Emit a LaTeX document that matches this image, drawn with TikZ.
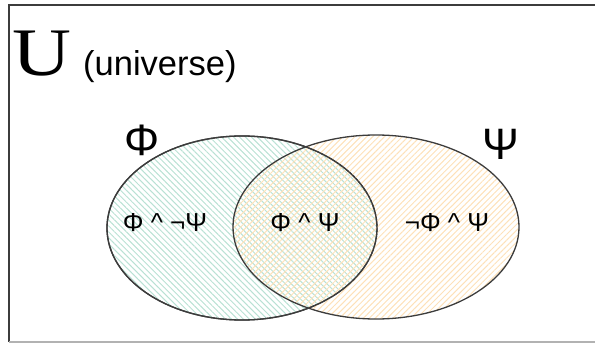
\documentclass[tikz,border=0pt]{standalone}
\usepackage{fontspec}
\setmainfont{Liberation Serif}
\newfontfamily\arialf{Liberation Sans}
\usetikzlibrary{shapes.geometric,patterns.meta}
\definecolor{tealpat}{RGB}{185,225,212}
\definecolor{orangepat}{RGB}{253,225,185}
\definecolor{rim}{RGB}{60,60,60}
\tikzset{
  setbox/.style={ellipse, draw=rim, line width=1.3pt, inner sep=0pt},
  biglabel/.style={font=\arialf\fontsize{44}{44}\selectfont, anchor=base, inner sep=0pt},
  reglabel/.style={font=\arialf\fontsize{26}{26}\selectfont, anchor=base, inner sep=0pt},
}
\begin{document}
\begin{tikzpicture}[x=1pt,y=-1pt]
\useasboundingbox (0,0) rectangle (595,343);
% frame
\draw[rim, line width=2pt] (595,4.5) -- (9,4.5) -- (9,342);
\draw[gray!60, line width=1.5pt] (9,342) -- (595,342);
% sets
\node[setbox, minimum width=270, minimum height=184,
      pattern={Lines[angle=-45,distance=4.2pt,line width=1pt]}, pattern color=tealpat] (phi) at (242,228) {};
\node[setbox, minimum width=286, minimum height=184,
      pattern={Lines[angle=45,distance=4.2pt,line width=1pt]}, pattern color=orangepat] (psi) at (376,227) {};
\draw[rim, line width=1.3pt] (phi.center) ellipse [x radius=135, y radius=92];
% labels
\node[anchor=base west, inner sep=0pt, xscale=1.2, font=\fontsize{68}{68}\selectfont] (u) at (12,75) {U};
\node[anchor=base west, inner sep=0pt, font=\arialf\fontsize{34.5}{34.5}\selectfont] (univ) at (83,75) {(universe)};
\node[biglabel] (phil) at (142,155) {Φ};
\node[biglabel] (psil) at (501,159) {Ψ};
\node[reglabel] (r1) at (165,231) {Φ \textasciicircum{} ¬Ψ};
\node[reglabel] (r2) at (305,231) {Φ \textasciicircum{} Ψ};
\node[reglabel] (r3) at (447,231) {¬Φ \textasciicircum{} Ψ};
\end{tikzpicture}
\end{document}
